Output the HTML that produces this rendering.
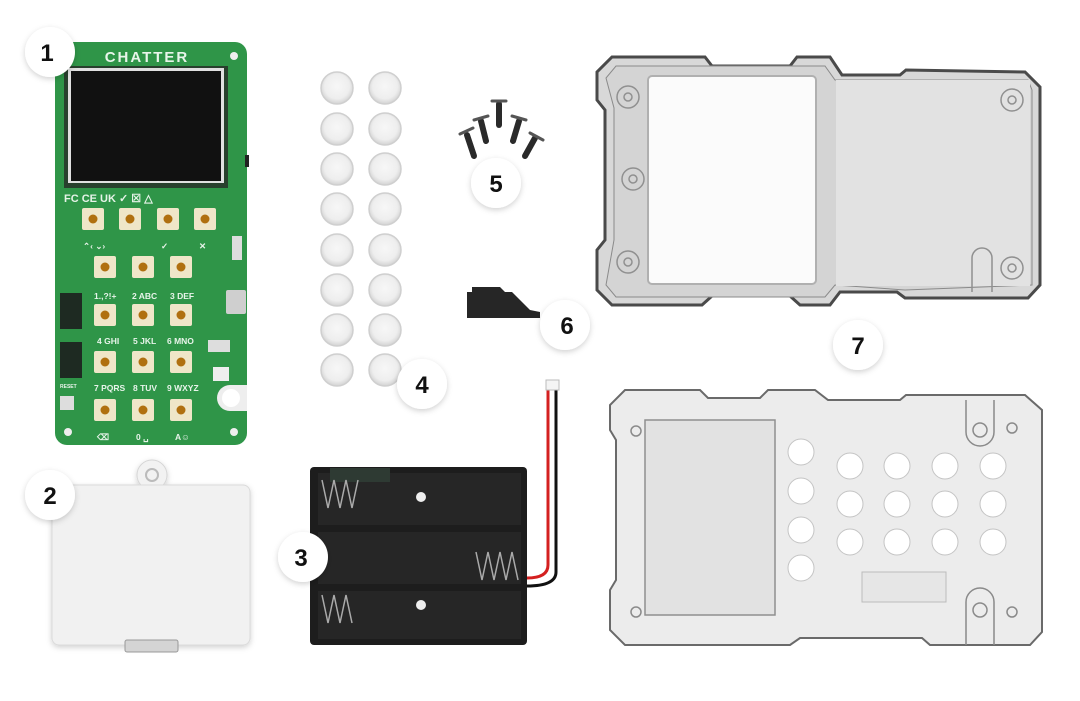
<!DOCTYPE html>
<html><head><meta charset="utf-8"><style>
html,body{margin:0;padding:0;background:#fff;width:1080px;height:701px;overflow:hidden}
svg{display:block}
text{font-family:"Liberation Sans",sans-serif}
</style></head><body>
<svg width="1080" height="701" viewBox="0 0 1080 701" xmlns="http://www.w3.org/2000/svg">
<defs>
<filter id="sh" x="-50%" y="-50%" width="200%" height="200%"><feDropShadow dx="0" dy="2" stdDeviation="3" flood-color="#000" flood-opacity="0.18"/></filter>
<radialGradient id="cap" cx="50%" cy="45%" r="55%"><stop offset="0" stop-color="#f7f7f7"/><stop offset="0.7" stop-color="#eeeeee"/><stop offset="1" stop-color="#d2d2d2"/></radialGradient>
</defs>

<!-- PCB -->
<rect x="55" y="42" width="192" height="403" rx="12" fill="#2f9548"/>
<text x="147" y="62" font-size="15" font-weight="bold" fill="#e8f5ea" text-anchor="middle" letter-spacing="2">CHATTER</text>
<circle cx="68" cy="56" r="4" fill="#eee"/><circle cx="234" cy="56" r="4" fill="#eee"/>
<circle cx="68" cy="432" r="4" fill="#eee"/><circle cx="234" cy="432" r="4" fill="#eee"/>
<rect x="64" y="66" width="164" height="122" fill="#28402d"/>
<rect x="68" y="68" width="156" height="115" fill="#e0e0e0"/>
<rect x="71" y="71" width="150" height="110" fill="#111"/>
<rect x="245" y="155" width="4" height="12" fill="#222"/>
<text x="64" y="202" font-size="11" font-weight="bold" fill="#e6f3e8">FC CE UK ✓ ☒ △</text>
<g fill="#efe6c8">
<rect x="82" y="208" width="22" height="22" rx="2"/><rect x="119" y="208" width="22" height="22" rx="2"/><rect x="157" y="208" width="22" height="22" rx="2"/><rect x="194" y="208" width="22" height="22" rx="2"/>
<rect x="94" y="256" width="22" height="22" rx="2"/><rect x="132" y="256" width="22" height="22" rx="2"/><rect x="170" y="256" width="22" height="22" rx="2"/>
<rect x="94" y="304" width="22" height="22" rx="2"/><rect x="132" y="304" width="22" height="22" rx="2"/><rect x="170" y="304" width="22" height="22" rx="2"/>
<rect x="94" y="351" width="22" height="22" rx="2"/><rect x="132" y="351" width="22" height="22" rx="2"/><rect x="170" y="351" width="22" height="22" rx="2"/>
<rect x="94" y="399" width="22" height="22" rx="2"/><rect x="132" y="399" width="22" height="22" rx="2"/><rect x="170" y="399" width="22" height="22" rx="2"/>
</g>
<g fill="#b0700f">
<circle cx="93" cy="219" r="4.5"/><circle cx="130" cy="219" r="4.5"/><circle cx="168" cy="219" r="4.5"/><circle cx="205" cy="219" r="4.5"/>
<circle cx="105" cy="267" r="4.5"/><circle cx="143" cy="267" r="4.5"/><circle cx="181" cy="267" r="4.5"/>
<circle cx="105" cy="315" r="4.5"/><circle cx="143" cy="315" r="4.5"/><circle cx="181" cy="315" r="4.5"/>
<circle cx="105" cy="362" r="4.5"/><circle cx="143" cy="362" r="4.5"/><circle cx="181" cy="362" r="4.5"/>
<circle cx="105" cy="410" r="4.5"/><circle cx="143" cy="410" r="4.5"/><circle cx="181" cy="410" r="4.5"/>
</g>
<g fill="#e8f4ea" font-size="8.5" font-weight="bold">
<text x="83" y="249">⌃‹ ⌄›</text><text x="161" y="249">✓</text><text x="199" y="249">✕</text>
<text x="94" y="299">1.,?!+</text><text x="132" y="299">2 ABC</text><text x="170" y="299">3 DEF</text>
<text x="97" y="344">4 GHI</text><text x="133" y="344">5 JKL</text><text x="167" y="344">6 MNO</text>
<text x="94" y="391">7 PQRS</text><text x="133" y="391">8 TUV</text><text x="167" y="391">9 WXYZ</text>
<text x="97" y="440">⌫</text><text x="136" y="440">0 ␣</text><text x="175" y="440">A☺</text>
<text x="60" y="388" font-size="5">RESET</text>
</g>
<rect x="60" y="293" width="22" height="36" fill="#1e2a22"/>
<rect x="60" y="342" width="22" height="36" fill="#1e2a22"/>
<rect x="60" y="396" width="14" height="14" fill="#ddd"/>
<rect x="226" y="290" width="20" height="24" rx="2" fill="#cfcfcf"/>
<rect x="208" y="340" width="22" height="12" fill="#ddd"/>
<rect x="213" y="367" width="16" height="14" fill="#eee"/>
<path d="M247 385 L230 385 A13 13 0 0 0 230 411 L247 411 Z" fill="#eee"/>
<circle cx="231" cy="398" r="9" fill="#fff"/>
<rect x="232" y="236" width="10" height="24" fill="#ddd"/>

<!-- Lid -->
<g filter="url(#sh)">
<circle cx="152" cy="475" r="15" fill="#f2f2f2" stroke="#d6d6d6"/>
<rect x="52" y="485" width="198" height="160" rx="7" fill="#f1f1f1" stroke="#dadada"/>
</g>
<circle cx="152" cy="475" r="6" fill="none" stroke="#bbb" stroke-width="2"/>
<rect x="125" y="640" width="53" height="12" rx="2" fill="#d4d4d4" stroke="#999"/>

<!-- Caps -->
<g fill="url(#cap)" stroke="#cfcfcf" stroke-width="1.5">
<circle cx="337" cy="88" r="16"/><circle cx="385" cy="88" r="16"/>
<circle cx="337" cy="129" r="16"/><circle cx="385" cy="129" r="16"/>
<circle cx="337" cy="169" r="16"/><circle cx="385" cy="169" r="16"/>
<circle cx="337" cy="209" r="16"/><circle cx="385" cy="209" r="16"/>
<circle cx="337" cy="250" r="16"/><circle cx="385" cy="250" r="16"/>
<circle cx="337" cy="290" r="16"/><circle cx="385" cy="290" r="16"/>
<circle cx="337" cy="330" r="16"/><circle cx="385" cy="330" r="16"/>
<circle cx="337" cy="370" r="16"/><circle cx="385" cy="370" r="16"/>
</g>

<!-- Screws -->
<g stroke="#2a2a2a" stroke-width="6" stroke-linecap="round">
<line x1="467" y1="135" x2="474" y2="156"/>
<line x1="481" y1="121" x2="486" y2="141"/>
<line x1="499" y1="104" x2="499" y2="125"/>
<line x1="519" y1="121" x2="513" y2="141"/>
<line x1="535" y1="138" x2="525" y2="156"/>
</g>
<g stroke="#555" stroke-width="3" stroke-linecap="round">
<line x1="460" y1="134" x2="473" y2="128"/><line x1="474" y1="120" x2="488" y2="116"/><line x1="492" y1="101" x2="506" y2="101"/><line x1="512" y1="116" x2="526" y2="120"/><line x1="530" y1="133" x2="543" y2="140"/>
</g>

<!-- Part 6 -->
<path d="M467 292 L472 292 L472 287 L500 287 L505 292 L512 292 L530 310 L540 312 L540 318 L467 318 Z" fill="#262626"/>

<!-- Battery holder -->
<path d="M548 388 L548 565 Q548 578 527 578" fill="none" stroke="#d42020" stroke-width="3"/>
<path d="M556 388 L556 572 Q556 586 527 586" fill="none" stroke="#111" stroke-width="3"/>
<rect x="546" y="380" width="13" height="10" fill="#f4f4f4" stroke="#bbb"/>
<rect x="310" y="467" width="217" height="178" rx="4" fill="#1d1d1d"/>
<rect x="318" y="473" width="203" height="52" fill="#262626"/>
<rect x="318" y="532" width="203" height="52" fill="#262626"/>
<rect x="318" y="591" width="203" height="48" fill="#262626"/>
<rect x="330" y="468" width="60" height="14" fill="#2e3a33"/>
<circle cx="421" cy="497" r="5" fill="#eee"/><circle cx="421" cy="605" r="5" fill="#eee"/>
<g stroke="#aaa" stroke-width="1.5" fill="none">
<path d="M322 480 l6 28 l6 -28 l6 28 l6 -28 l6 28 l6 -28"/>
<path d="M476 552 l6 28 l6 -28 l6 28 l6 -28 l6 28 l6 -28 l6 28"/>
<path d="M322 595 l6 28 l6 -28 l6 28 l6 -28 l6 28"/>
</g>

<!-- Top case -->
<path d="M612 57 L705 57 L712 66 L790 66 L797 57 L830 57 L842 75 L900 75 L906 70 L1025 72 L1040 87 L1040 285 L1028 298 L905 298 L897 292 L840 292 L830 305 L800 305 L790 296 L712 296 L702 305 L612 305 L597 290 L597 250 L605 240 L605 110 L597 100 L597 72 Z" fill="#d8d8d8" stroke="#4a4a4a" stroke-width="3"/>
<path d="M616 66 L825 66 L835 80 L1028 80 L1032 90 L1032 285 L905 290 L835 285 L825 297 L616 297 L606 285 L614 240 L614 108 L606 78 Z" fill="#d4d4d4" stroke="#8a8a8a" stroke-width="1"/>
<rect x="836" y="80" width="194" height="206" fill="#e2e2e2"/>
<rect x="648" y="76" width="168" height="208" rx="4" fill="#fbfbfb" stroke="#b0b0b0" stroke-width="2"/>
<g fill="none" stroke="#909090" stroke-width="1.5">
<circle cx="628" cy="97" r="11"/><circle cx="628" cy="97" r="4"/>
<circle cx="628" cy="262" r="11"/><circle cx="628" cy="262" r="4"/>
<circle cx="633" cy="179" r="11"/><circle cx="633" cy="179" r="4"/>
<circle cx="1012" cy="100" r="11"/><circle cx="1012" cy="100" r="4"/>
<circle cx="1012" cy="268" r="11"/><circle cx="1012" cy="268" r="4"/>
<path d="M972 292 L972 258 A10 10 0 0 1 992 258 L992 292"/>
</g>

<!-- Bottom case -->
<path d="M625 390 L700 390 L708 398 L760 398 L768 390 L815 390 L828 400 L900 400 L906 395 L1025 395 L1042 410 L1042 632 L1030 645 L930 645 L922 638 L800 638 L790 645 L625 645 L610 630 L610 590 L616 580 L616 440 L610 430 L610 405 Z" fill="#ececec" stroke="#6a6a6a" stroke-width="2"/>
<rect x="645" y="420" width="130" height="195" fill="#e2e2e2" stroke="#8f8f8f" stroke-width="1.5"/>
<rect x="862" y="572" width="84" height="30" fill="#e6e6e6" stroke="#bcbcbc"/>
<g fill="#fff" stroke="#c4c4c4">
<circle cx="801" cy="452" r="13"/><circle cx="801" cy="491" r="13"/><circle cx="801" cy="530" r="13"/><circle cx="801" cy="568" r="13"/>
<circle cx="850" cy="466" r="13"/><circle cx="897" cy="466" r="13"/><circle cx="945" cy="466" r="13"/><circle cx="993" cy="466" r="13"/>
<circle cx="850" cy="504" r="13"/><circle cx="897" cy="504" r="13"/><circle cx="945" cy="504" r="13"/><circle cx="993" cy="504" r="13"/>
<circle cx="850" cy="542" r="13"/><circle cx="897" cy="542" r="13"/><circle cx="945" cy="542" r="13"/><circle cx="993" cy="542" r="13"/>
</g>
<g fill="none" stroke="#8a8a8a" stroke-width="1.5">
<path d="M966 400 L966 432 A14 14 0 0 0 994 432 L994 400"/><circle cx="980" cy="430" r="7"/>
<path d="M966 645 L966 602 A14 14 0 0 1 994 602 L994 645"/><circle cx="980" cy="610" r="7"/>
<circle cx="636" cy="431" r="5"/><circle cx="636" cy="612" r="5"/><circle cx="1012" cy="428" r="5"/><circle cx="1012" cy="612" r="5"/>
</g>

<!-- Number badges -->
<g filter="url(#sh)" fill="#fff">
<circle cx="50" cy="52" r="25"/><circle cx="50" cy="495" r="25"/><circle cx="303" cy="557" r="25"/>
<circle cx="422" cy="384" r="25"/><circle cx="496" cy="183" r="25"/><circle cx="565" cy="325" r="25"/><circle cx="858" cy="345" r="25"/>
</g>
<g font-size="24" font-weight="bold" fill="#111" text-anchor="middle">
<text x="47" y="61">1</text><text x="50" y="504">2</text><text x="301" y="566">3</text>
<text x="422" y="393">4</text><text x="496" y="192">5</text><text x="567" y="334">6</text><text x="858" y="354">7</text>
</g>
</svg>
</body></html>
